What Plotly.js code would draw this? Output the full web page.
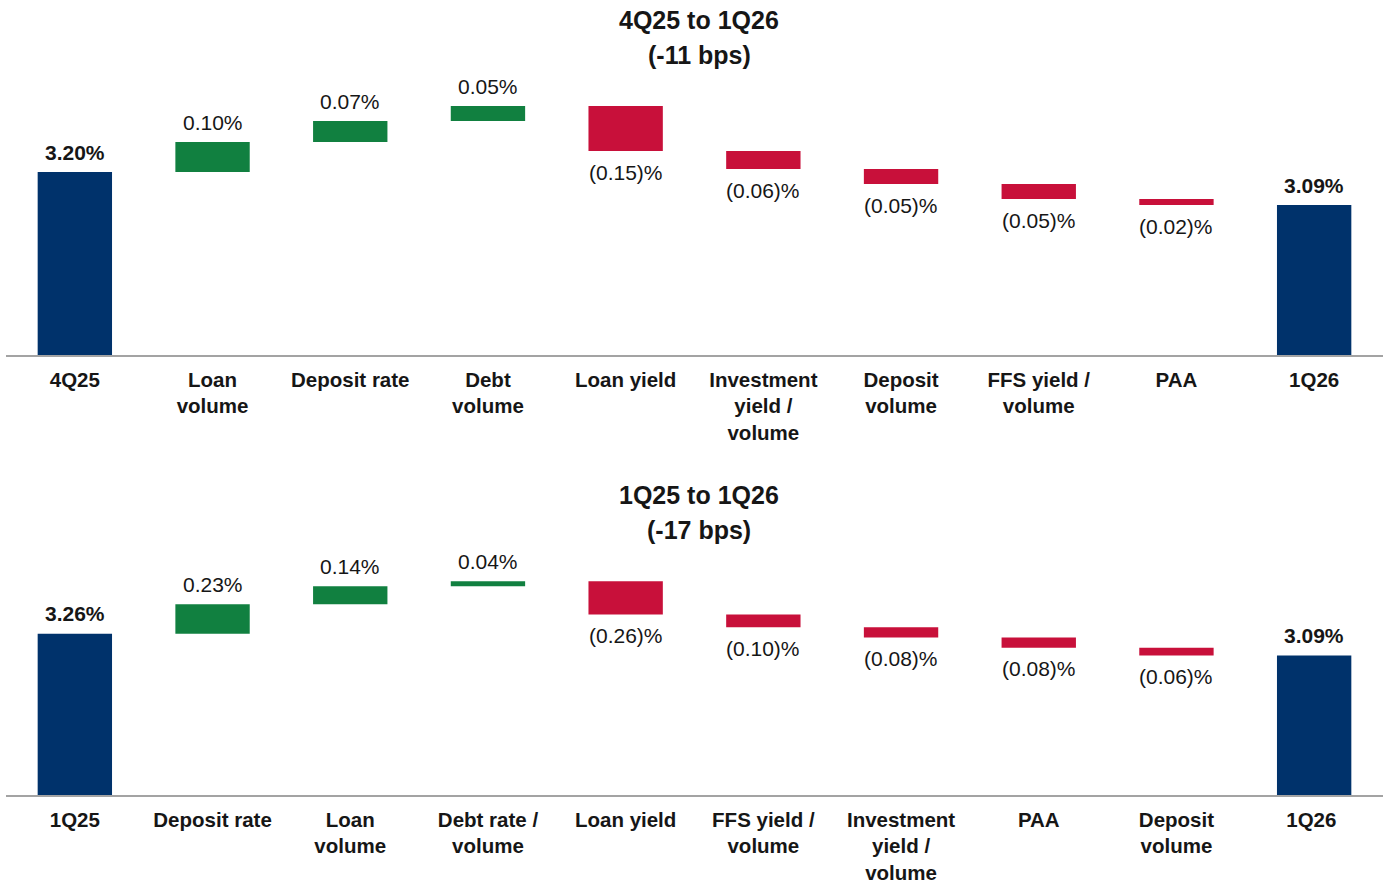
<!DOCTYPE html>
<html>
<head>
<meta charset="utf-8">
<script src="https://cdn.plot.ly/plotly-3.0.1.min.js"></script>
<style>html,body{margin:0;padding:0;background:#fff;}#chart{width:1385px;height:883px;}</style>
</head>
<body>
<div id="chart"></div>
<script>
// ---- Data ----
const topTitle = "4Q25 to 1Q26";
const topSubtitle = "(-11 bps)";
const topCategories = ["4Q25", "Loan<br>volume", "Deposit rate", "Debt<br>volume", "Loan yield",
  "Investment<br>yield /<br>volume", "Deposit<br>volume", "FFS yield /<br>volume", "PAA", "1Q26"];
const topValues = [3.20, 0.10, 0.07, 0.05, -0.15, -0.06, -0.05, -0.05, -0.02, 3.09];

const botTitle = "1Q25 to 1Q26";
const botSubtitle = "(-17 bps)";
const botCategories = ["1Q25", "Deposit rate", "Loan<br>volume", "Debt rate /<br>volume", "Loan yield",
  "FFS yield /<br>volume", "Investment<br>yield /<br>volume", "PAA", "Deposit<br>volume", "1Q26 "];
const botValues = [3.26, 0.23, 0.14, 0.04, -0.26, -0.10, -0.08, -0.08, -0.06, 3.09];

// ---- Style ----
const FONT = "'Liberation Sans', Arial, Helvetica, sans-serif";
const NAVY = "#00326b", GREEN = "#118040", RED = "#c8103a", TXT = "#161616";

function measures(vals) {
  return vals.map((v, i) => i === 0 ? "absolute" : (i === vals.length - 1 ? "total" : "relative"));
}
function labelText(v, i, n) {
  if (i === 0 || i === n - 1) return "<b>" + v.toFixed(2) + "%</b>";
  return v >= 0 ? v.toFixed(2) + "%" : "(" + Math.abs(v).toFixed(2) + ")%";
}
function trace(cats, vals, xa, ya) {
  return {
    type: "waterfall",
    x: cats,
    y: vals,
    measure: measures(vals),
    textinfo: "none",
    connector: {visible: false},
    increasing: {marker: {color: GREEN, line: {width: 0}}},
    decreasing: {marker: {color: RED, line: {width: 0}}},
    totals: {marker: {color: NAVY, line: {width: 0}}},
    xaxis: xa, yaxis: ya,
    hoverinfo: "skip",
    showlegend: false
  };
}
// data-label annotations anchored at each bar's end (from the same arrays)
function labelAnns(cats, vals, xa, ya) {
  const out = [];
  let cum = 0;
  const n = vals.length;
  vals.forEach((v, i) => {
    let end;
    if (i === 0) { cum = v; end = v; }
    else if (i === n - 1) { end = v; }
    else { cum += v; end = cum; }
    const up = (i === 0 || i === n - 1 || v >= 0);
    out.push({
      xref: xa, yref: ya, x: cats[i], y: end,
      text: labelText(v, i, n), showarrow: false,
      xanchor: "center", yanchor: "middle",
      yshift: up ? 20 : -21,
      font: {family: FONT, size: 21, color: TXT}
    });
  });
  return out;
}

const H = 883, W = 1385, ML = 6, MR = 2;
const pw = W - ML - MR;
const py = p => (H - p) / H;
const px = p => (p - ML) / pw;

const xCommon = {
  type: "category",
  showline: true, linecolor: "#a3a3a3", linewidth: 2,
  showgrid: false, zeroline: false, ticks: "",
  ticklabelstandoff: 5,
  tickfont: {family: FONT, size: 20.5, color: TXT, weight: "bold"},
  fixedrange: true
};
const yCommon = {visible: false, showgrid: false, zeroline: false, fixedrange: true};

function titleAnn(text, ypix) {
  return {text: "<b>" + text + "</b>", xref: "paper", yref: "paper", x: px(699), y: py(ypix),
    showarrow: false, xanchor: "center", yanchor: "middle", font: {family: FONT, size: 25, color: TXT}};
}

const layout = {
  width: W, height: H,
  margin: {l: ML, r: MR, t: 0, b: 0},
  paper_bgcolor: "#fff", plot_bgcolor: "#fff",
  waterfallgap: 0.46,
  font: {family: FONT, color: TXT},
  xaxis: Object.assign({}, xCommon, {domain: [0, 1], anchor: "y"}),
  yaxis: Object.assign({}, yCommon, {domain: [py(355), py(80)], range: [2.59, 3.5067], anchor: "x"}),
  xaxis2: Object.assign({}, xCommon, {domain: [0, 1], anchor: "y2"}),
  yaxis2: Object.assign({}, yCommon, {domain: [py(795), py(550)], range: [2.0, 3.914], anchor: "x2"}),
  annotations: [
    titleAnn(topTitle, 20), titleAnn(topSubtitle, 55),
    titleAnn(botTitle, 495), titleAnn(botSubtitle, 530)
  ].concat(labelAnns(topCategories, topValues, "x", "y"))
   .concat(labelAnns(botCategories, botValues, "x2", "y2"))
};

Plotly.newPlot("chart", [
  trace(topCategories, topValues, "x", "y"),
  trace(botCategories, botValues, "x2", "y2")
], layout, {displayModeBar: false, staticPlot: true});
</script>
</body>
</html>
